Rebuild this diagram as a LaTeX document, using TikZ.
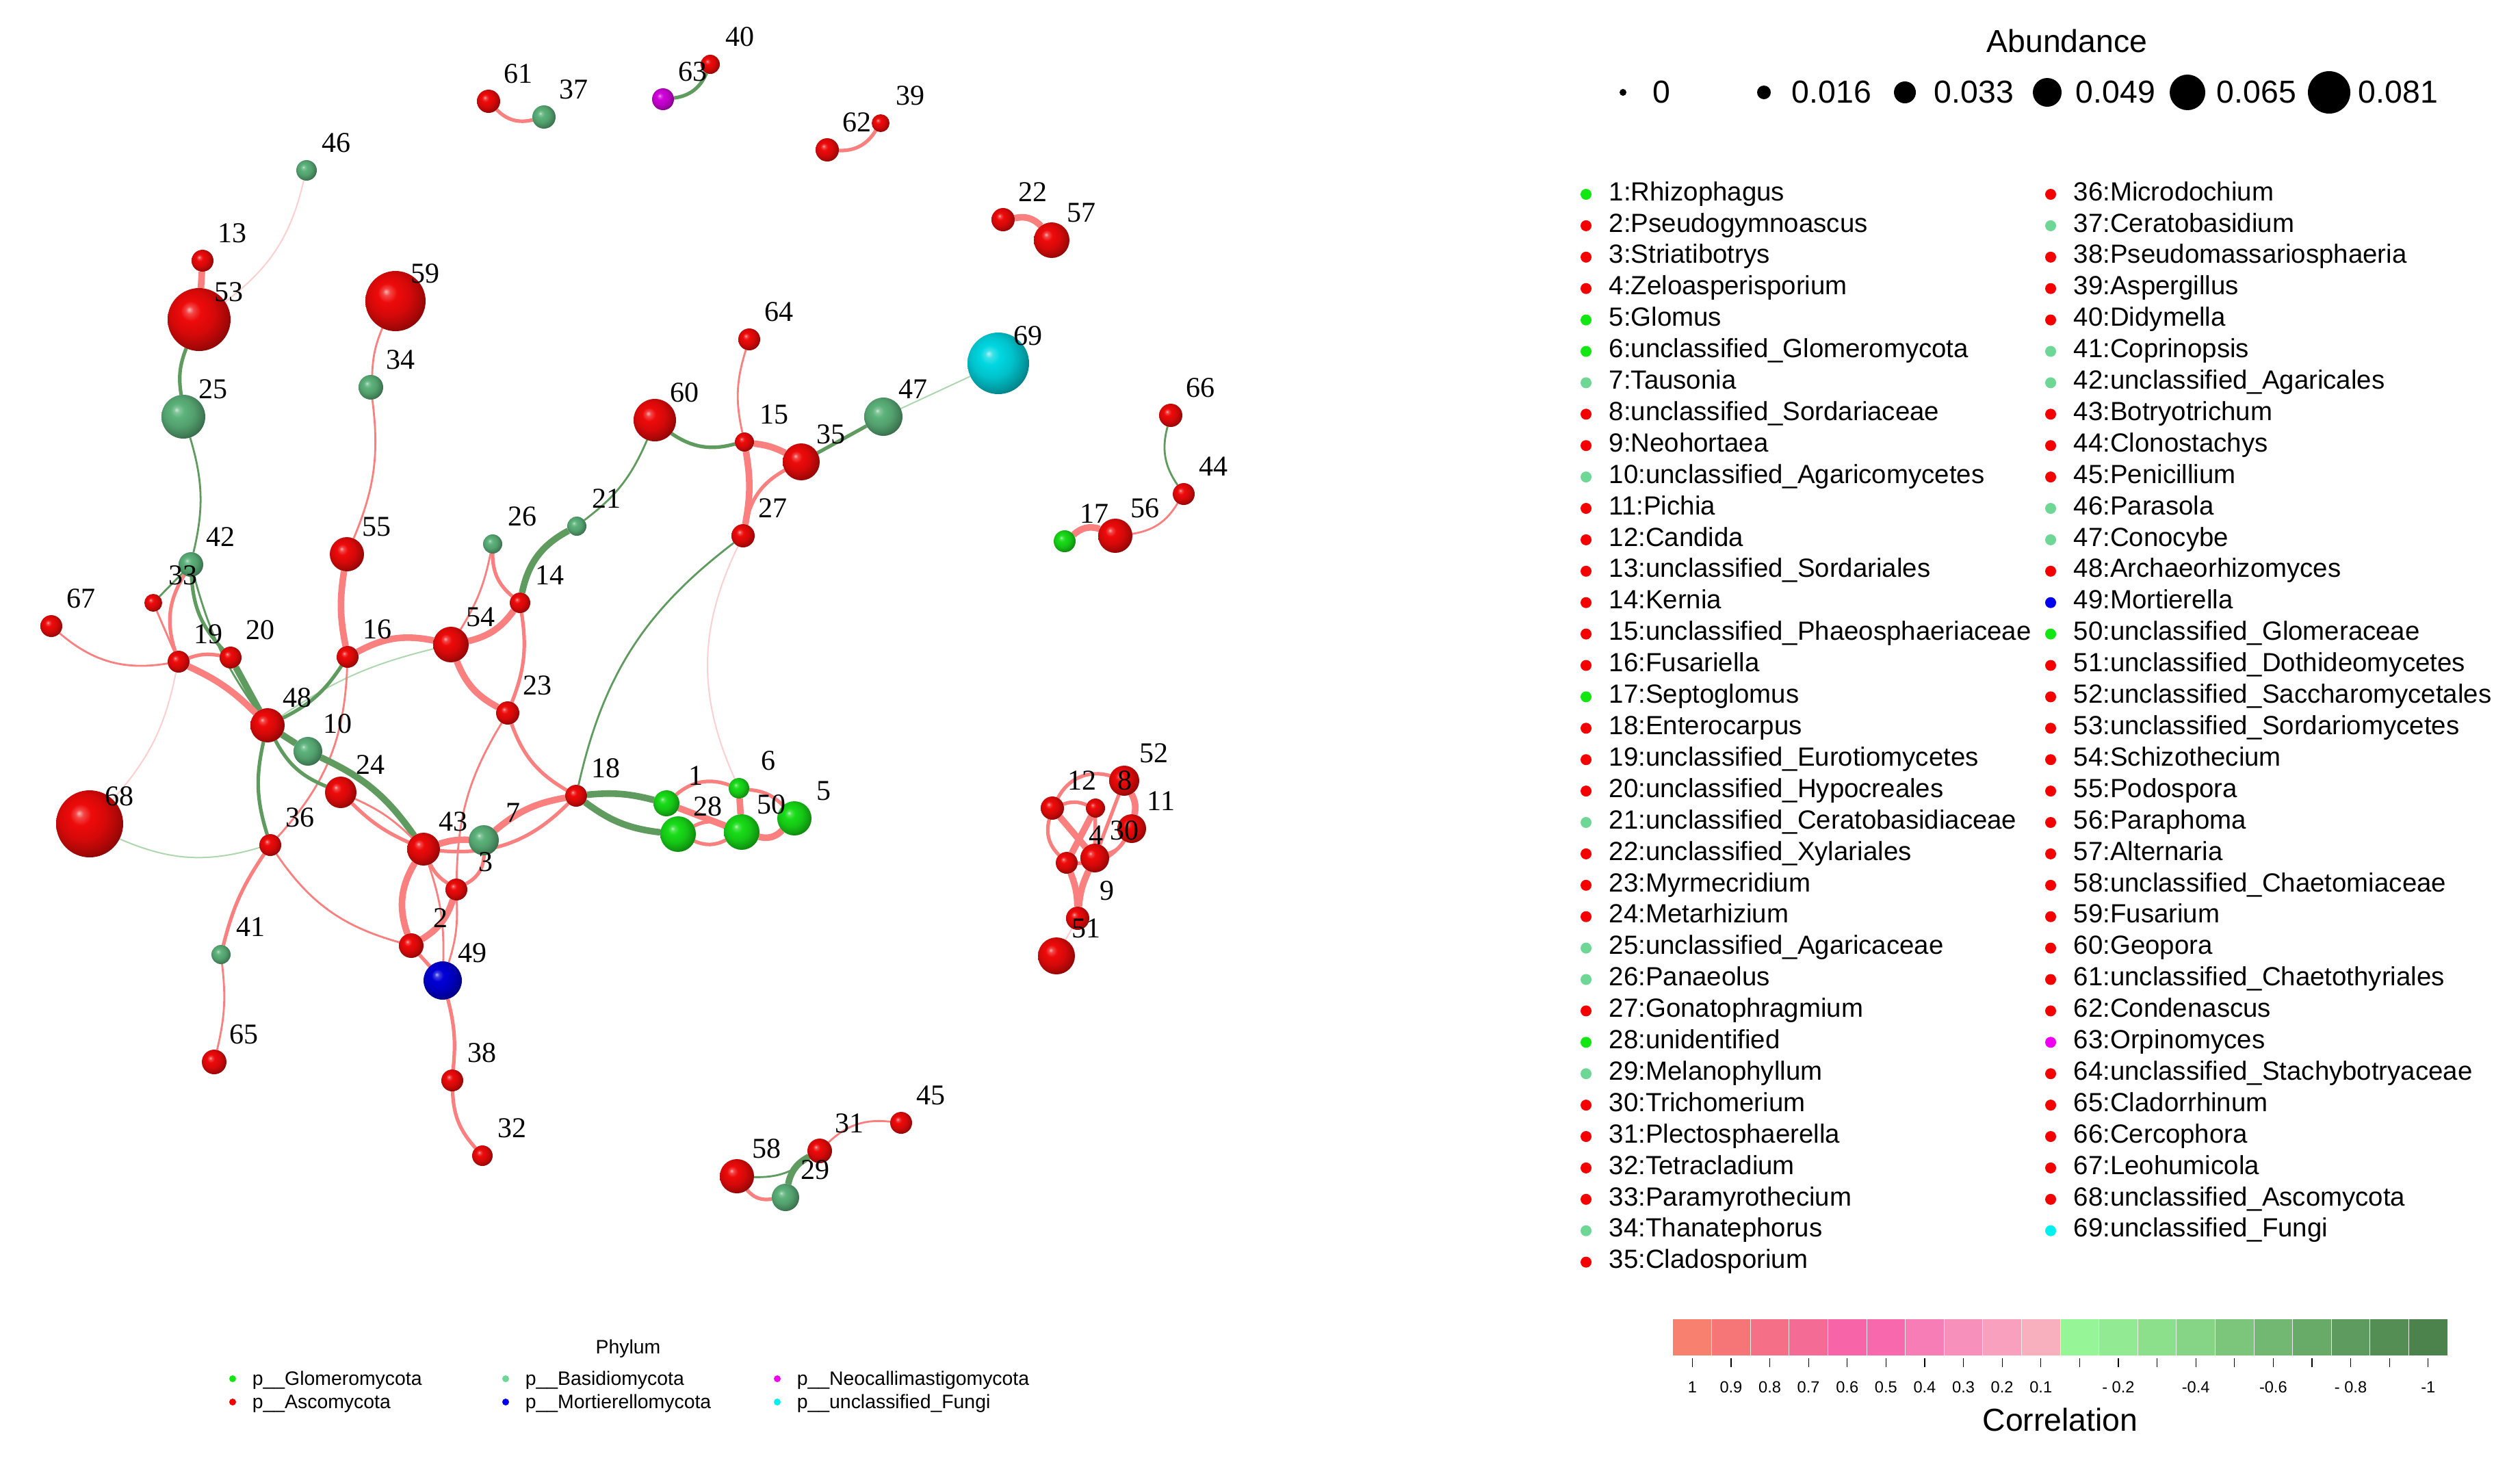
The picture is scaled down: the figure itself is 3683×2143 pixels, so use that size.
\documentclass[tikz,border=0pt]{standalone}
\usepackage{fontspec}
\setmainfont{Liberation Serif}
\newfontfamily\lsans{Liberation Sans}
\pgfdeclarelayer{bg}
\pgfdeclarelayer{edges}
\pgfsetlayers{bg,edges,main}
\makeatletter
\pgfdeclareradialshading[tikz@ball]{glossy}{\pgfqpoint{-8bp}{8bp}}{%
 color(0bp)=(tikz@ball!30!white);
 color(3bp)=(tikz@ball!75!white);
 color(8bp)=(tikz@ball);
 color(17bp)=(tikz@ball!90!black);
 color(25bp)=(tikz@ball!72!black);
 color(32bp)=(tikz@ball!52!black);
 color(40bp)=(tikz@ball!35!black);
 color(50bp)=(black)}
\makeatother
% sphere colours
\definecolor{ascC}{RGB}{238,10,10}
\definecolor{basC}{RGB}{92,178,122}
\definecolor{gloC}{RGB}{24,220,24}
\definecolor{morC}{RGB}{0,0,215}
\definecolor{neoC}{RGB}{210,0,220}
\definecolor{uncC}{RGB}{0,215,225}
% legend dot colours
\definecolor{ascL}{RGB}{245,0,0}
\definecolor{basL}{RGB}{110,215,150}
\definecolor{gloL}{RGB}{20,230,20}
\definecolor{morL}{RGB}{0,0,240}
\definecolor{neoL}{RGB}{240,0,240}
\definecolor{uncL}{RGB}{0,240,240}
% edge colours
\definecolor{posE}{RGB}{250,128,128}
\definecolor{posF}{RGB}{252,208,208}
\definecolor{negE}{RGB}{95,155,95}
\definecolor{negF}{RGB}{175,215,175}
% colour bar
\definecolor{cb1}{RGB}{248,128,110}
\definecolor{cb2}{RGB}{246,118,120}
\definecolor{cb3}{RGB}{245,112,135}
\definecolor{cb4}{RGB}{244,108,150}
\definecolor{cb5}{RGB}{247,100,168}
\definecolor{cb6}{RGB}{248,104,172}
\definecolor{cb7}{RGB}{247,125,182}
\definecolor{cb8}{RGB}{247,145,188}
\definecolor{cb9}{RGB}{248,160,190}
\definecolor{cb10}{RGB}{248,175,190}
\definecolor{cb11}{RGB}{150,245,150}
\definecolor{cb12}{RGB}{146,234,146}
\definecolor{cb13}{RGB}{140,224,140}
\definecolor{cb14}{RGB}{134,212,134}
\definecolor{cb15}{RGB}{124,198,124}
\definecolor{cb16}{RGB}{114,184,114}
\definecolor{cb17}{RGB}{104,170,104}
\definecolor{cb18}{RGB}{94,155,94}
\definecolor{cb19}{RGB}{84,142,84}
\definecolor{cb20}{RGB}{76,130,76}
\tikzset{
  sph/.style={circle, inner sep=0pt, outer sep=0pt},
  lab/.style={font=\fontsize{10.5}{12}\selectfont, inner sep=0pt},
  ePt/.style={draw=posE, line width=0.7pt},
  ePm/.style={draw=posE, line width=1.3pt},
  ePk/.style={draw=posE, line width=2.4pt},
  ePf/.style={draw=posF, line width=0.5pt},
  eNt/.style={draw=negE, line width=0.7pt},
  eNm/.style={draw=negE, line width=1.3pt},
  eNk/.style={draw=negE, line width=2.4pt},
  eNf/.style={draw=negF, line width=0.5pt},
  legtxt/.style={font=\lsans\fontsize{9.6}{11}\selectfont, anchor=mid west, inner sep=0pt},
  bigtxt/.style={font=\lsans\fontsize{11.6}{13}\selectfont, inner sep=0pt},
  phytxt/.style={font=\lsans\fontsize{7.1}{8}\selectfont, anchor=mid west, inner sep=0pt},
  ticktxt/.style={font=\lsans\fontsize{5.9}{7}\selectfont, inner sep=0pt},
}
\begin{document}
\begin{tikzpicture}[x=0.25pt, y=-0.25pt]
\begin{pgfonlayer}{bg}
\fill[white] (0,0) rectangle (3683,2143);
\end{pgfonlayer}
\useasboundingbox (0,0) rectangle (3683,2143);

% ---------- spheres ----------
\foreach \id/\x/\y/\r/\c in {
1/974/1174/19/gloC, 2/601/1382/18/ascC, 3/667/1300/16/ascC, 4/1559/1261/16/ascC,
5/1161/1196/25/gloC, 6/1080/1152/15/gloC, 7/707/1228/22/basC, 8/1601/1181/14/ascC,
9/1575/1342/17/ascC, 10/450/1098/21/basC, 11/1654/1211/21/ascC, 12/1538/1181/17/ascC,
13/296/381/16/ascC, 14/760/881/15/ascC, 15/1088/646/14/ascC, 16/508/960/16/ascC,
17/1556/791/16/gloC, 18/842/1163/16/ascC, 19/261/967/16/ascC, 20/337/961/16/ascC,
21/843/769/14/basC, 22/1466/321/17/ascC, 23/742/1042/17/ascC, 24/498/1158/23/ascC,
25/268/609/32/basC, 26/720/795/14/basC, 27/1086/783/17/ascC, 28/991/1219/26/gloC,
29/1148/1750/20/basC, 30/1600/1254/21/ascC, 31/1198/1682/18/ascC, 32/705/1689/15/ascC,
33/224/881/13/ascC, 34/542/566/18/basC, 35/1171/675/27/ascC, 36/395/1235/16/ascC,
37/795/171/17/basC, 38/661/1579/16/ascC, 39/1287/180/13/ascC, 40/1038/94/14/ascC,
41/323/1395/14/basC, 42/279/825/18/basC, 43/619/1241/24/ascC, 44/1730/722/16/ascC,
45/1317/1641/16/ascC, 46/448/249/15/basC, 47/1291/609/28/basC, 48/391/1060/25/ascC,
49/647/1433/28/morC, 50/1084/1216/26/gloC, 51/1544/1397/27/ascC, 52/1643/1141/22/ascC,
53/291/467/46/ascC, 54/659/942/26/ascC, 55/507/810/25/ascC, 56/1630/783/25/ascC,
57/1537/351/26/ascC, 58/1077/1719/25/ascC, 59/578/440/44/ascC, 60/957/614/31/ascC,
61/714/148/17/ascC, 62/1209/219/17/ascC, 63/969/145/16/neoC, 64/1095/496/16/ascC,
65/313/1552/18/ascC, 66/1711/607/17/ascC, 67/75/915/16/ascC, 68/131/1204/49/ascC,
69/1459/531/45/uncC}
{
  \node[sph, ball color=\c, shading=glossy, minimum size=\r*0.5pt] (n\id) at (\x,\y) {};
}
% ---------- labels ----------
\foreach \id/\x/\y in {
1/974/1174, 2/601/1382, 3/667/1300, 4/1559/1261, 5/1161/1196, 6/1080/1152, 7/707/1228,
8/1601/1181, 9/1575/1342, 10/450/1098, 11/1654/1211, 12/1538/1181, 13/296/381, 14/760/881,
15/1088/646, 16/508/960, 17/1556/791, 18/842/1163, 19/261/967, 20/337/961, 21/843/769,
22/1466/321, 23/742/1042, 24/498/1158, 25/268/609, 26/720/795, 27/1086/783, 28/991/1219,
29/1148/1750, 30/1600/1254, 31/1198/1682, 32/705/1689, 33/224/881, 34/542/566, 35/1171/675,
36/395/1235, 37/795/171, 38/661/1579, 39/1287/180, 40/1038/94, 41/323/1395, 42/279/825,
43/619/1241, 44/1730/722, 45/1317/1641, 46/448/249, 47/1291/609, 48/391/1060, 49/647/1433,
50/1084/1216, 51/1544/1397, 52/1643/1141, 53/291/467, 54/659/942, 55/507/810, 56/1630/783,
57/1537/351, 58/1077/1719, 59/578/440, 60/957/614, 61/714/148, 62/1209/219, 63/969/145,
64/1095/496, 65/313/1552, 66/1711/607, 67/75/915, 68/131/1204, 69/1459/531}
{
  \node[lab] (l\id) at ({\x+43},{\y-40}) {\id};
}

% ---------- edges ----------
\begin{pgfonlayer}{edges}
\draw[ePm] (n61) to[bend right=30] (n37);
\draw[eNm] (n63) to[bend right=30] (n40);
\draw[ePm] (n62) to[bend right=30] (n39);
\draw[ePk] (n22) to[bend left=30] (n57);
\draw[ePf] (n46) to[bend left=20] (n53);
\draw[ePk] (n13) -- (n53);
\draw[eNm] (n53) to[bend right=15] (n25);
\draw[eNt] (n25) to[bend left=15] (n42);
\draw[ePt] (n59) to[bend right=10] (n34);
\draw[ePt] (n34) to[bend left=15] (n55);
\draw[ePt] (n64) to[bend right=15] (n15);
\draw[eNm] (n60) to[bend right=25] (n15);
\draw[eNt] (n60) to[bend left=15] (n21);
\draw[ePk] (n15) to[bend left=10] (n35);
\draw[ePk] (n15) to[bend left=10] (n27);
\draw[ePm] (n27) to[bend left=25] (n35);
\draw[eNm] (n35) -- (n47);
\draw[eNf] (n47) -- (n69);
\draw[eNt] (n66) to[bend right=25] (n44);
\draw[ePt] (n44) to[bend left=25] (n56);
\draw[ePk] (n17) to[bend left=30] (n56);
\draw[eNk] (n21) to[bend right=25] (n14);
\draw[ePm] (n26) to[bend right=25] (n14);
\draw[ePt] (n26) to[bend left=10] (n54);
\draw[ePk] (n14) to[bend left=20] (n54);
\draw[ePm] (n14) to[bend left=15] (n23);
\draw[ePk] (n54) to[bend right=20] (n16);
\draw[eNf] (n48) to[bend left=10] (n54);
\draw[ePk] (n54) to[bend right=20] (n23);
\draw[ePk] (n16) to[bend left=10] (n55);
\draw[eNm] (n16) to[bend left=15] (n48);
\draw[ePt] (n16) to[bend left=20] (n36);
\draw[eNt] (n42) -- (n33);
\draw[ePm] (n42) to[bend right=25] (n19);
\draw[eNm] (n42) to[bend right=20] (n20);
\draw[eNk] (n20) -- (n48);
\draw[eNt] (n42) to[bend right=10] (n48);
\draw[ePt] (n33) -- (n19);
\draw[ePm] (n19) to[bend left=15] (n20);
\draw[ePk] (n19) to[bend left=10] (n48);
\draw[ePt] (n19) to[bend left=25] (n67);
\draw[ePf] (n19) to[bend left=15] (n68);
\draw[eNk] (n48) -- (n10);
\draw[eNm] (n48) to[bend right=20] (n24);
\draw[eNm] (n48) to[bend right=15] (n36);
\draw[eNk] (n10) to[bend left=15] (n43);
\draw[ePm] (n24) to[bend right=10] (n43);
\draw[ePt] (n24) to[bend left=10] (n43);
\draw[eNf] (n36) to[bend left=20] (n68);
\draw[ePm] (n36) to[bend right=10] (n41);
\draw[ePt] (n36) to[bend right=20] (n2);
\draw[ePt] (n41) to[bend left=10] (n65);
\draw[ePm] (n23) to[bend right=20] (n18);
\draw[ePt] (n23) to[bend right=15] (n3);
\draw[ePk] (n18) to[bend right=15] (n7);
\draw[ePm] (n18) to[bend left=25] (n43);
\draw[eNt] (n18) to[bend left=20] (n27);
\draw[eNk] (n18) to[bend left=10] (n1);
\draw[eNk] (n18) to[bend right=15] (n28);
\draw[ePm] (n1) to[bend left=30] (n6);
\draw[ePk] (n1) -- (n50);
\draw[ePm] (n28) to[bend left=25] (n50);
\draw[ePm] (n28) to[bend right=25] (n50);
\draw[ePk] (n6) -- (n50);
\draw[ePk] (n50) to[bend right=30] (n5);
\draw[ePm] (n6) to[bend left=20] (n5);
\draw[ePf] (n27) to[bend right=25] (n6);
\draw[ePk] (n43) to[bend left=10] (n7);
\draw[ePm] (n43) to[bend right=15] (n3);
\draw[ePk] (n43) to[bend right=25] (n2);
\draw[ePt] (n43) to[bend left=10] (n49);
\draw[ePm] (n7) to[bend left=30] (n3);
\draw[ePk] (n3) to[bend left=20] (n2);
\draw[ePm] (n2) -- (n49);
\draw[ePt] (n3) to[bend left=10] (n49);
\draw[ePm] (n49) to[bend left=10] (n38);
\draw[ePm] (n38) to[bend right=20] (n32);
\draw[ePm] (n58) to[bend right=30] (n29);
\draw[eNt] (n58) to[bend right=20] (n31);
\draw[eNk] (n29) to[bend left=25] (n31);
\draw[ePt] (n31) to[bend left=25] (n45);
\draw[ePm] (n12) to[bend left=20] (n8);
\draw[ePm] (n12) to[bend left=40] (n52);
\draw[ePm] (n12) to[bend right=30] (n4);
\draw[ePk] (n12) -- (n30);
\draw[ePm] (n8) -- (n30);
\draw[ePk] (n8) -- (n4);
\draw[ePk] (n52) to[bend left=20] (n11);
\draw[ePm] (n52) -- (n30);
\draw[ePm] (n11) to[bend left=20] (n30);
\draw[ePm] (n11) to[bend left=30] (n4);
\draw[ePk] (n4) to[bend left=10] (n9);
\draw[ePk] (n30) to[bend right=10] (n9);
\draw[ePf] (n9) -- (n51);
\end{pgfonlayer}

% ---------- abundance legend ----------
\node[bigtxt] (abtitle) at (3021,60) {Abundance};
\foreach \k/\x/\r/\tx/\t in {1/2372/5/2415/0, 2/2578/10/2618/0.016, 3/2784/16/2826/0.033,
  4/2992/21/3033/0.049, 5/3197/26/3239/0.065, 6/3404/31/3446/0.081}
{
  \fill[black] (\x,135) circle[radius=\r];
  \node[bigtxt, anchor=west] (ab\k) at (\tx,135) {\t};
}

% ---------- genus legend ----------
\foreach \i/\t/\c in {1/Rhizophagus/gloL, 2/Pseudogymnoascus/ascL, 3/Striatibotrys/ascL,
 4/Zeloasperisporium/ascL, 5/Glomus/gloL, 6/unclassified\_Glomeromycota/gloL,
 7/Tausonia/basL, 8/unclassified\_Sordariaceae/ascL, 9/Neohortaea/ascL,
 10/unclassified\_Agaricomycetes/basL, 11/Pichia/ascL, 12/Candida/ascL,
 13/unclassified\_Sordariales/ascL, 14/Kernia/ascL, 15/unclassified\_Phaeosphaeriaceae/ascL,
 16/Fusariella/ascL, 17/Septoglomus/gloL, 18/Enterocarpus/ascL,
 19/unclassified\_Eurotiomycetes/ascL, 20/unclassified\_Hypocreales/ascL,
 21/unclassified\_Ceratobasidiaceae/basL, 22/unclassified\_Xylariales/ascL,
 23/Myrmecridium/ascL, 24/Metarhizium/ascL, 25/unclassified\_Agaricaceae/basL,
 26/Panaeolus/basL, 27/Gonatophragmium/ascL, 28/unidentified/gloL, 29/Melanophyllum/basL,
 30/Trichomerium/ascL, 31/Plectosphaerella/ascL, 32/Tetracladium/ascL,
 33/Paramyrothecium/ascL, 34/Thanatephorus/basL, 35/Cladosporium/ascL}
{
  \fill[\c] (2318,{284+(\i-1)*45.9}) circle[radius=8];
  \node[legtxt] (lg\i) at (2351,{284+(\i-1)*45.9}) {\i:\t};
}
\foreach \i/\t/\c in {36/Microdochium/ascL, 37/Ceratobasidium/basL,
 38/Pseudomassariosphaeria/ascL, 39/Aspergillus/ascL, 40/Didymella/ascL,
 41/Coprinopsis/basL, 42/unclassified\_Agaricales/basL, 43/Botryotrichum/ascL,
 44/Clonostachys/ascL, 45/Penicillium/ascL, 46/Parasola/basL, 47/Conocybe/basL,
 48/Archaeorhizomyces/ascL, 49/Mortierella/morL, 50/unclassified\_Glomeraceae/gloL,
 51/unclassified\_Dothideomycetes/ascL, 52/unclassified\_Saccharomycetales/ascL,
 53/unclassified\_Sordariomycetes/ascL, 54/Schizothecium/ascL, 55/Podospora/ascL,
 56/Paraphoma/ascL, 57/Alternaria/ascL, 58/unclassified\_Chaetomiaceae/ascL,
 59/Fusarium/ascL, 60/Geopora/ascL, 61/unclassified\_Chaetothyriales/ascL,
 62/Condenascus/ascL, 63/Orpinomyces/neoL, 64/unclassified\_Stachybotryaceae/ascL,
 65/Cladorrhinum/ascL, 66/Cercophora/ascL, 67/Leohumicola/ascL,
 68/unclassified\_Ascomycota/ascL, 69/unclassified\_Fungi/uncL}
{
  \fill[\c] (2997,{284+(\i-36)*45.9}) circle[radius=8];
  \node[legtxt] (lg\i) at (3030,{284+(\i-36)*45.9}) {\i:\t};
}

% ---------- correlation colour bar ----------
\foreach \i in {1,...,20}
{
  \fill[cb\i] ({2445+(\i-1)*56.6},1928) rectangle ({2445+\i*56.6},1981);
  \draw[black, line width=0.3pt] ({2445+(\i-0.5)*56.6},1985) -- ({2445+(\i-0.5)*56.6},1998);
}
\foreach \i in {2,...,20}
{
  \draw[white!85!gray, line width=0.2pt] ({2445+(\i-1)*56.6},1928) -- ({2445+(\i-1)*56.6},1981);
}
\foreach \i/\t in {1/1, 2/0.9, 3/0.8, 4/0.7, 5/0.6, 6/0.5, 7/0.4, 8/0.3, 9/0.2, 10/0.1,
  12/- 0.2, 14/-0.4, 16/-0.6, 18/- 0.8, 20/-1}
{
  \node[ticktxt] (ct\i) at ({2445+(\i-0.5)*56.6},2027) {\t};
}
\node[bigtxt] (corrtitle) at (3011,2075) {Correlation};

% ---------- phylum legend ----------
\node[font=\lsans\fontsize{7.1}{8}\selectfont, inner sep=0pt] (phytitle) at (918,1971) {Phylum};
\foreach \k/\x/\y/\t/\c in {1/340/2015/p\_\_Glomeromycota/gloL,
  2/340/2049/p\_\_Ascomycota/ascL,
  3/739/2015/p\_\_Basidiomycota/basL,
  4/739/2049/p\_\_Mortierellomycota/morL,
  5/1136/2015/p\_\_Neocallimastigomycota/neoL,
  6/1136/2049/p\_\_unclassified\_Fungi/uncL}
{
  \fill[\c] (\x,\y) circle[radius=5];
  \node[phytxt] (ph\k) at (\x+28,\y) {\t};
}
\end{tikzpicture}
\end{document}
